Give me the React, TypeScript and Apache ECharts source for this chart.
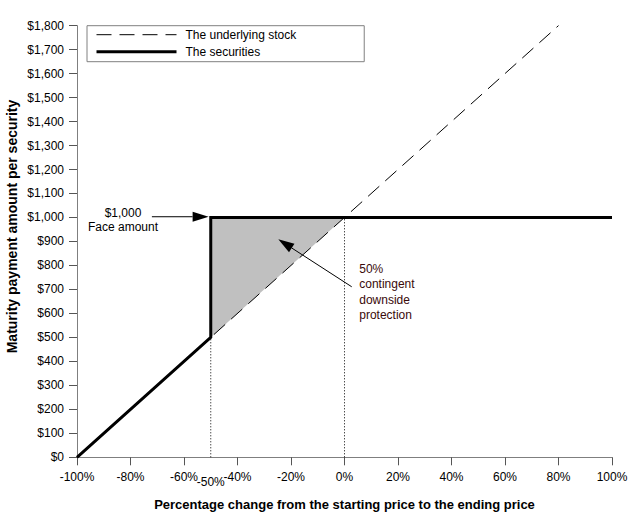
import React, { useEffect, useRef } from "react";
import * as echarts from "echarts";

// ---- data ----
const stockLine: number[][] = [[-100, 0], [80, 1800]];
const securitiesLine: number[][] = [[-100, 0], [-50, 500], [-50, 1000], [100, 1000]];
const protectionArea: number[][] = [[-50, 500], [-50, 1000], [0, 1000]];
const guideMinus50: number[][] = [[-50, 0], [-50, 500]];
const guideZero: number[][] = [[0, 0], [0, 1000]];

// annotations (data coordinates)
const faceLabelPos = [-82.8, 990];
const faceArrow: number[][] = [[-72, 1003], [-50.8, 1003]];
const protLabelPos = [5.5, 689];
const protArrow: number[][] = [[2.7, 711], [-24.75, 909]];
const extraTickValue = -50;

const FONT = "Liberation Sans, Arial, sans-serif";

function fmtDollar(v: number): string {
  return "$" + String(Math.round(v)).replace(/\B(?=(\d{3})+(?!\d))/g, ",");
}

export default function App() {
  const ref = useRef<HTMLDivElement>(null);

  useEffect(() => {
    document.body.style.margin = "0";
    if (!ref.current) return;
    const chart = echarts.init(ref.current, undefined, { renderer: "svg" });

    const axisGray = "#7f7f7f";

    chart.setOption({
      animation: false,
      textStyle: { fontFamily: FONT },
      grid: { left: 77, right: 19, top: 25.6, bottom: 60.7 },
      legend: {
        orient: "vertical",
        left: 87,
        top: 25.7,
        data: ["The underlying stock", "The securities"],
        itemWidth: 80,
        itemHeight: 14,
        itemGap: 5,
        padding: [3, 68, 4, 8],
        borderColor: "#808080",
        borderWidth: 1,
        textStyle: { fontSize: 12, color: "#000", fontFamily: FONT, padding: [0, 0, 0, 4] },
        lineStyle: { width: "inherit", type: "inherit" },
        itemStyle: { color: "rgba(0,0,0,0)", borderColor: "rgba(0,0,0,0)", borderWidth: 0, opacity: 0 },
        selectedMode: false,
      },
      xAxis: {
        type: "value",
        min: -100,
        max: 100,
        interval: 20,
        name: "Percentage change from the starting price to the ending price",
        nameLocation: "middle",
        nameGap: 41,
        nameTextStyle: { fontSize: 13, fontWeight: "bold", color: "#000", fontFamily: FONT },
        axisLine: { show: true, onZero: false, lineStyle: { color: axisGray, width: 1 } },
        axisTick: { show: true, length: 8, lineStyle: { color: "#555" } },
        axisLabel: { margin: 14, fontSize: 12, color: "#000", formatter: (v: number) => v + "%" },
        splitLine: { show: false },
      },
      yAxis: {
        type: "value",
        min: 0,
        max: 1800,
        interval: 100,
        axisLine: { show: true, onZero: false, lineStyle: { color: axisGray, width: 1 } },
        axisTick: { show: true, length: 8, lineStyle: { color: "#555" } },
        axisLabel: { margin: 13, fontSize: 12, color: "#000", formatter: fmtDollar },
        splitLine: { show: false },
      },
      series: [
        {
          type: "custom",
          name: "protection",
          silent: true,
          z: 1,
          data: protectionArea,
          renderItem: (params: any, api: any) => {
            if (params.dataIndex !== 0) return null;
            const pts = protectionArea.map((p) => api.coord(p));
            return {
              type: "polygon",
              shape: { points: pts },
              style: { fill: "#c0c0c0", stroke: "none" },
            };
          },
        },
        {
          type: "line",
          name: "guide1",
          data: guideMinus50,
          symbol: "none",
          silent: true,
          z: 2,
          lineStyle: { color: "#000", width: 1, type: [1, 2] },
        },
        {
          type: "line",
          name: "guide2",
          data: guideZero,
          symbol: "none",
          silent: true,
          z: 2,
          lineStyle: { color: "#000", width: 1, type: [1, 2] },
        },
        {
          type: "line",
          name: "The underlying stock",
          data: stockLine,
          symbol: "none",
          z: 3,
          color: "#000",
          lineStyle: { color: "#000", width: 1, type: [15, 8] },
        },
        {
          type: "line",
          name: "The securities",
          data: securitiesLine,
          symbol: "none",
          z: 4,
          color: "#000",
          lineStyle: { color: "#000", width: 3, join: "miter" },
        },
      ],
    });

    const px = (p: number[]) => chart.convertToPixel({ gridIndex: 0 }, p) as number[];

    const arrow = (from: number[], to: number[]) => {
      const a = px(from);
      const b = px(to);
      const dx = b[0] - a[0];
      const dy = b[1] - a[1];
      const len = Math.sqrt(dx * dx + dy * dy);
      const ux = dx / len;
      const uy = dy / len;
      const hl = 16;
      const hw = 5;
      const bx = b[0] - ux * hl;
      const by = b[1] - uy * hl;
      const nx = -uy;
      const ny = ux;
      return [
        {
          type: "line",
          shape: { x1: a[0], y1: a[1], x2: bx, y2: by },
          style: { stroke: "#000", lineWidth: 1 },
          z: 10,
        },
        {
          type: "polygon",
          shape: {
            points: [
              [b[0], b[1]],
              [bx + nx * hw, by + ny * hw],
              [bx - nx * hw, by - ny * hw],
            ],
          },
          style: { fill: "#000" },
          z: 10,
        },
      ];
    };

    const fl = px(faceLabelPos);
    const pl = px(protLabelPos);
    const tk = px([extraTickValue, 0]);

    chart.setOption({
      graphic: [
        {
          type: "text",
          x: fl[0],
          y: fl[1],
          z: 10,
          style: {
            text: "$1,000\nFace amount",
            fontSize: 12,
            fontFamily: FONT,
            fill: "#000",
            align: "center",
            verticalAlign: "middle",
            lineHeight: 14,
          },
        },
        ...arrow(faceArrow[0], faceArrow[1]),
        {
          type: "text",
          x: pl[0],
          y: pl[1],
          z: 10,
          style: {
            text: "50%\ncontingent\ndownside\nprotection",
            fontSize: 12,
            fontFamily: FONT,
            fill: "#3a0a0a",
            align: "left",
            verticalAlign: "middle",
            lineHeight: 15.3,
          },
        },
        ...arrow(protArrow[0], protArrow[1]),
        {
          type: "text",
          x: tk[0],
          y: tk[1] + 24.4,
          z: 10,
          style: {
            text: extraTickValue + "%",
            fontSize: 12,
            fontFamily: FONT,
            fill: "#000",
            align: "center",
            verticalAlign: "middle",
          },
        },
        {
          type: "text",
          x: 11.7,
          y: 226.5,
          rotation: Math.PI / 2,
          z: 10,
          style: {
            text: "Maturity payment amount per security",
            fontSize: 14,
            fontWeight: "bold",
            fontFamily: FONT,
            fill: "#000",
            align: "center",
            verticalAlign: "middle",
          },
        },
      ],
    });

    return () => {
      chart.dispose();
    };
  }, []);

  return <div ref={ref} style={{ width: 631, height: 518 }} />;
}
